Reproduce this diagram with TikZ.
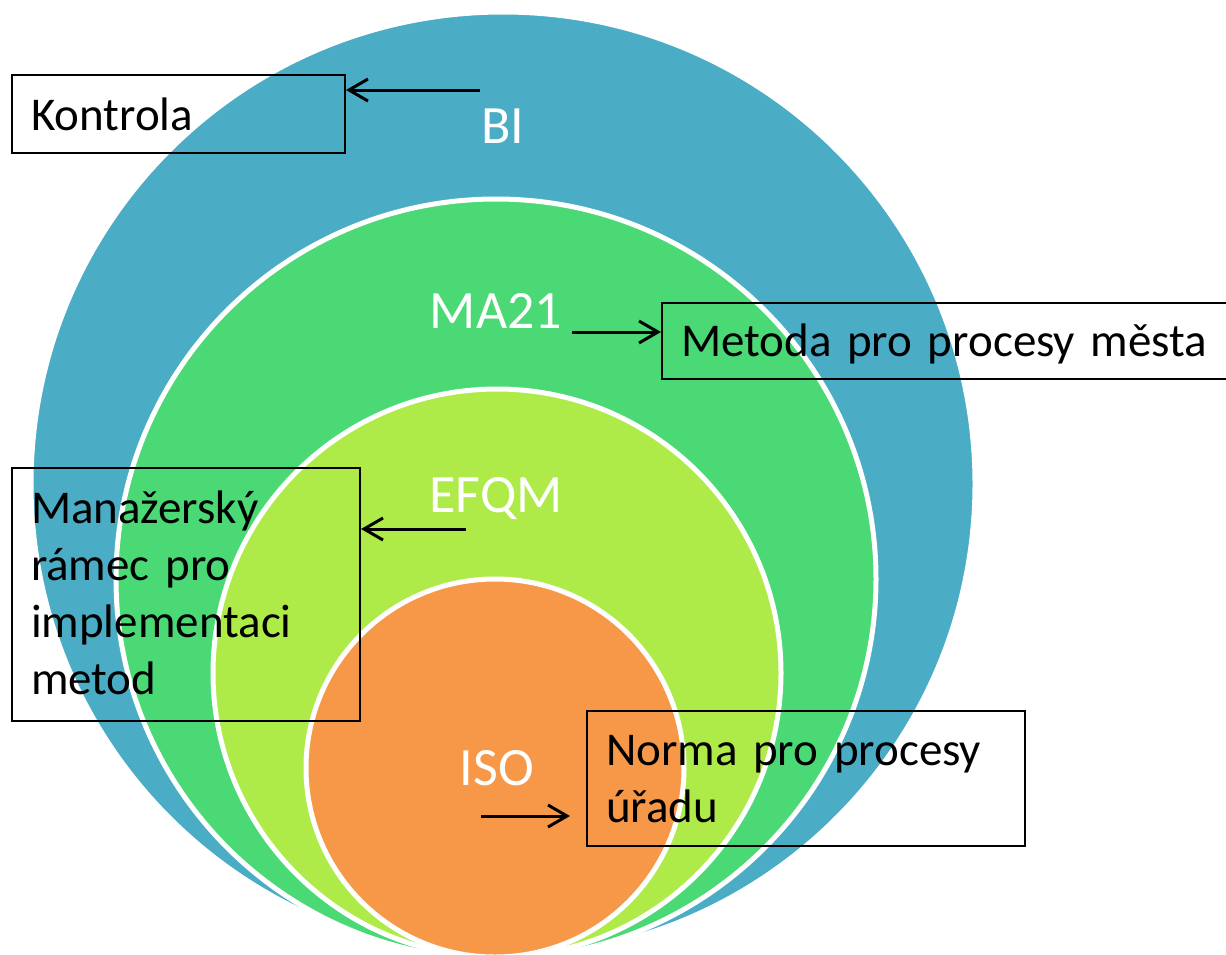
\documentclass[tikz,border=0pt]{standalone}
\usepackage{fontspec}
\setmainfont{Carlito}
\usetikzlibrary{arrows.meta}
\definecolor{biblue}{HTML}{4BACC6}
\definecolor{magreen}{HTML}{4AD975}
\definecolor{eflime}{HTML}{AEEB49}
\definecolor{isoorange}{HTML}{F79848}
\tikzset{
  ring/.style={draw=white, line width=5pt},
  lbl/.style={text=white, anchor=base, inner sep=0pt, font=\fontsize{54}{60}\selectfont},
  infobox/.style={draw=black, line width=2pt, anchor=center, align=left,
    inner xsep=19pt, inner ysep=0pt, font=\fontsize{47}{57.3}\selectfont},
  arr/.style={draw=black, line width=3pt, -{Straight Barb[length=19pt,width=22pt]}}
}
\begin{document}
\begin{tikzpicture}[x=1pt,y=-1pt]
\useasboundingbox (0,0) rectangle (1226,954);
\clip (0,0) rectangle (1226,954);
% circles
\fill[biblue, ring] (503,484) circle[radius=472pt];
\fill[magreen, ring] (496,579) circle[radius=380pt];
\fill[eflime, ring] (497,673) circle[radius=284pt];
\fill[isoorange, ring] (495,768) circle[radius=189pt];
% circle labels
\node[lbl] (bi) at (503,143) {BI};
\node[lbl] (ma) at (496,328) {MA21};
\node[lbl] (ef) at (496,512) {EFQM};
\node[lbl] (iso) at (497,785) {ISO};
% boxes
\node[infobox, minimum width=333pt, minimum height=78pt, text width=295pt,
      text height=32pt, text depth=0pt] (kontrola) at (178.5,114) {Kontrola};
\node[infobox, minimum width=578pt, minimum height=76pt, text width=540pt,
      text height=30pt, text depth=0pt] (metoda) at (951,341) {Metoda pro procesy města};
\node[infobox, minimum width=348pt, minimum height=253pt, text width=310pt,
      text height=30pt, text depth=173pt] (manazer) at (186,594.5)
      {Manažerský\\rámec pro\\implementaci\\metod};
\node[infobox, minimum width=438pt, minimum height=135pt, text width=400pt,
      text height=30pt, text depth=57pt] (norma) at (806,778.5)
      {Norma pro procesy\\úřadu};
% arrows
\coordinate (s1) at (480,90);
\coordinate (s2) at (572,332);
\coordinate (s3) at (466,529);
\coordinate (s4) at (481,816);
\draw[arr] (s1) -- (s1 -| kontrola.east);
\draw[arr] (s2) -- (s2 -| metoda.west);
\draw[arr] (s3) -- (s3 -| manazer.east);
\draw[arr, shorten >=16pt] (s4) -- (s4 -| norma.west);
\end{tikzpicture}
\end{document}
